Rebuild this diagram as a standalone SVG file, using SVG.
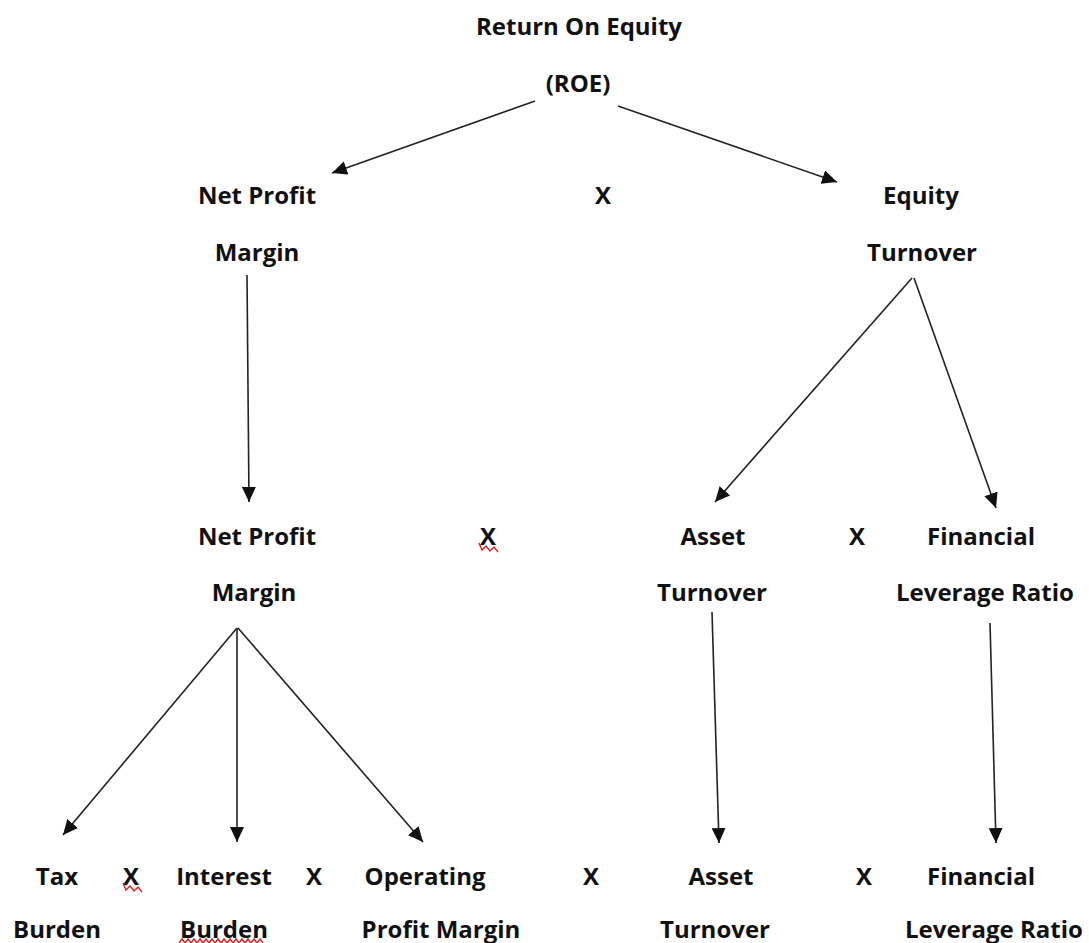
<svg xmlns="http://www.w3.org/2000/svg" width="1089" height="943" viewBox="0 0 1089 943">
<style>
text{font-family:"Open Sans","Liberation Sans",sans-serif;font-weight:700;font-size:24px;fill:#111;text-anchor:middle}
.c line{stroke:#222;stroke-width:1.6;marker-end:url(#ah)}
.sq{fill:none;stroke:#e02020;stroke-width:1.4}
</style>
<defs>
<marker id="ah" markerUnits="userSpaceOnUse" markerWidth="16" markerHeight="14" refX="15" refY="7" orient="auto">
<path d="M0,0 L15,7 L0,14 Z" fill="#111"/>
</marker>
</defs>
<rect width="1089" height="943" fill="#fff"/>
<g id="roe"><text x="579" y="35">Return On Equity</text><text x="578" y="92">(ROE)</text></g>
<g id="npm1"><text x="257" y="204">Net Profit</text><text x="257" y="261">Margin</text></g>
<g id="x1"><text x="603" y="204">X</text></g>
<g id="eqt"><text x="921" y="204">Equity</text><text x="922" y="261">Turnover</text></g>
<g id="npm2"><text x="257" y="545">Net Profit</text><text x="254" y="601">Margin</text></g>
<g id="x2"><text x="488" y="545">X</text><path class="sq" d="M479,543 l3,7 l4,-4 l4,5 l4,-4 l4,5"/></g>
<g id="at1"><text x="713" y="545">Asset</text><text x="712" y="601">Turnover</text></g>
<g id="x3"><text x="857" y="545">X</text></g>
<g id="flr1"><text x="981" y="545">Financial</text><text x="985" y="601">Leverage Ratio</text></g>
<g id="tax"><text x="57" y="885">Tax</text><text x="57" y="938">Burden</text></g>
<g id="x4"><text x="131" y="885">X</text><path class="sq" d="M123,883 l3,7 l4,-4 l4,5 l4,-4 l4,5"/></g>
<g id="int"><text x="224" y="885">Interest</text><text x="224" y="938">Burden</text><path class="sq" d="M179,943 l3,-4 l3,4 l3,-4 l3,4 l3,-4 l3,4 l3,-4 l3,4 l3,-4 l3,4 l3,-4 l3,4 l3,-4 l3,4 l3,-4 l3,4 l3,-4 l3,4 l3,-4 l3,4 l3,-4 l3,4 l3,-4 l3,4 l3,-4 l3,4 l3,-4 l3,4"/></g>
<g id="x5"><text x="314" y="885">X</text></g>
<g id="opm"><text x="425" y="885">Operating</text><text x="441" y="938">Profit Margin</text></g>
<g id="x6"><text x="591" y="885">X</text></g>
<g id="at2"><text x="721" y="885">Asset</text><text x="715" y="938">Turnover</text></g>
<g id="x7"><text x="864" y="885">X</text></g>
<g id="flr2"><text x="981" y="885">Financial</text><text x="994" y="938">Leverage Ratio</text></g>
<g id="connectors" class="c">
<line x1="535" y1="101" x2="332" y2="173"/>
<line x1="618" y1="106" x2="837" y2="182"/>
<line x1="247" y1="275" x2="249" y2="502"/>
<line x1="912" y1="278" x2="715" y2="502"/>
<line x1="914" y1="278" x2="996" y2="508"/>
<line x1="237" y1="628" x2="63" y2="835"/>
<line x1="237" y1="628" x2="237" y2="842"/>
<line x1="238" y1="628" x2="423" y2="842"/>
<line x1="712" y1="612" x2="719" y2="843"/>
<line x1="990" y1="623" x2="996" y2="843"/>
</g>
</svg>
